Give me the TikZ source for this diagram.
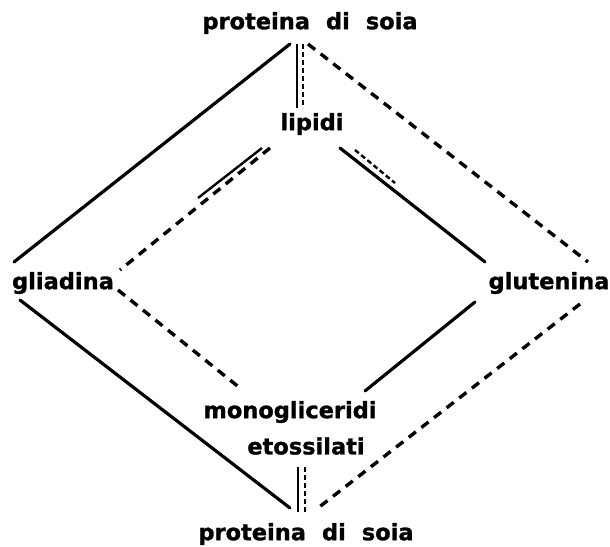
\documentclass[tikz,border=0pt]{standalone}
\usepackage{fontspec}
\setmainfont{DejaVu Sans}[BoldFeatures={FakeBold=1.2}]
\usetikzlibrary{calc}
\tikzset{
  lbl/.style={inner sep=0pt, font=\fontsize{22.5}{24}\selectfont\bfseries},
  solidline/.style={line width=3.2pt, line cap=round},
  dashline/.style={line width=3.4pt, dash pattern=on 9pt off 7pt},
  thinsolid/.style={line width=2.4pt},
  thindash/.style={line width=2.4pt, dash pattern=on 5pt off 3pt},
}
\begin{document}
\begin{tikzpicture}[x=1pt,y=-1pt]
\useasboundingbox (0,0) rectangle (610,546);
\node[lbl] (top)  at (310,23)  {proteina\hspace{16pt}di\hspace{16pt}soia};
\node[lbl] (lip)  at (312,124) {lipidi};
\node[lbl] (glia) at (63,283)  {gliadina};
\node[lbl] (glut) at (549,283) {glutenina};
\node[lbl] (mono) at (290,412) {monogliceridi};
\node[lbl] (eto)  at (306,446) {etossilati};
\node[lbl] (bot)  at (306,534) {proteina\hspace{16pt}di\hspace{16pt}soia};
% top
\draw[solidline] ($(top)+(-20,21)$) -- ($(glia)+(-49,-21)$);
\draw[dashline] ($(top)+(-2,21)$) -- ($(glut)+(39,-21)$);
\draw[thinsolid] ($(top)+(-13,21)$) -- ($(lip)+(-15,-16)$);
\draw[thindash] ($(top)+(-7,21)$) -- ($(lip)+(-9,-16)$);
% lipidi
\draw[dashline] ($(lip)+(-42,24)$) -- ($(glia)+(57,-13)$);
\draw[thinsolid] ($(lip)+(-50,24)$) -- ($(lip)+(-114,74)$);
\draw[solidline] ($(lip)+(28,24)$) -- ($(glut)+(-64,-21)$);
\draw[thindash] ($(lip)+(43,26)$) -- ($(lip)+(83,59)$);
% sides to bottom
\draw[solidline] ($(glia)+(-43,17)$) -- ($(bot)+(-16,-26)$);
\draw[dashline] ($(glia)+(55,7)$) -- ($(mono)+(-50,-24)$);
\draw[solidline] ($(glut)+(-74,19)$) -- ($(mono)+(75,-21)$);
\draw[dashline] ($(glut)+(31,21)$) -- ($(bot)+(12,-26)$);
% bottom double
\draw[thinsolid] ($(eto)+(-8,21)$) -- ($(bot)+(-8,-22)$);
\draw[thindash] ($(eto)+(-1,21)$) -- ($(bot)+(-1,-22)$);
\end{tikzpicture}
\end{document}
